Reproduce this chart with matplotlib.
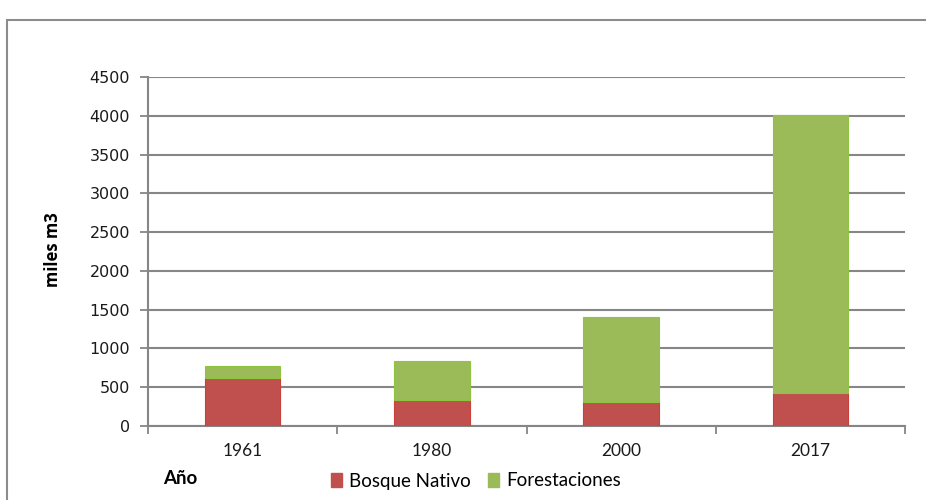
import matplotlib
matplotlib.use("Agg")
import matplotlib.pyplot as plt
from matplotlib.patches import Rectangle, Patch
import numpy as np

# datos (miles m3)
anios = ["1961", "1980", "2000", "2017"]
bosque_nativo = [615, 333, 310, 423]
total = [775, 837, 1405, 4015]
forestaciones = [t - b for t, b in zip(total, bosque_nativo)]
yticks = [0, 500, 1000, 1500, 2000, 2500, 3000, 3500, 4000, 4500]

rojo = "#C0504D"
verde = "#9BBB59"
gris = "#868686"

fig = plt.figure(figsize=(9.26, 5), dpi=100)

# marco del grafico
fig.patches.append(Rectangle((7 / 926, -0.02), 1.0, 0.98, transform=fig.transFigure,
                             fill=False, edgecolor="#8c8c8c", linewidth=1.5))

ax = fig.add_axes([148 / 926, 74 / 500, 757 / 926, 349 / 500])
x = np.arange(len(anios))
ax.bar(x, bosque_nativo, width=0.4, color=rojo, edgecolor="#c9403c", linewidth=0.8,
       zorder=3)
ax.bar(x, forestaciones, width=0.4, bottom=bosque_nativo, color=verde,
       edgecolor="#8fc43f", linewidth=0.8, zorder=3)

ax.set_xlim(-0.5, 3.5)
ax.set_ylim(0, 4500)
ax.set_yticks(yticks)
ax.set_yticklabels([str(v) for v in yticks], fontsize=11.5, family="DejaVu Sans",
                   color="#1a1a1a")
ax.grid(axis="y", color=gris, linewidth=1.5, zorder=0)

ax.set_xticks(np.arange(-0.5, 4.0, 1.0))
ax.set_xticklabels([])
ax.set_xticks(x, minor=True)
ax.set_xticklabels(anios, minor=True, fontsize=12.5, family="Lato", color="#1a1a1a")
ax.tick_params(axis="x", which="minor", length=0, pad=12)
ax.tick_params(axis="x", which="major", length=6, color=gris, width=1.3)
ax.tick_params(axis="y", length=6, color=gris, width=1.3, pad=7)

for s in ["top", "right"]:
    ax.spines[s].set_visible(False)
for s in ["left", "bottom"]:
    ax.spines[s].set_color(gris)
    ax.spines[s].set_linewidth(1.5)

fig.text(53 / 926, 1 - 250 / 500, "miles m3", rotation=90, ha="center", va="center",
         fontsize=12, fontweight="bold", family="Open Sans")
fig.text(163 / 926, 1 - 479 / 500, "Año", ha="left", va="center",
         fontsize=13.5, fontweight="bold", family="Lato")

handles = [Patch(facecolor=rojo, edgecolor=rojo), Patch(facecolor=verde, edgecolor=verde)]
fig.legend(handles, ["Bosque Nativo", "Forestaciones"], loc="center",
           bbox_to_anchor=(476 / 926, 1 - 481 / 500), ncol=2, frameon=False,
           prop={"family": "Lato", "size": 13.5}, handlelength=0.6, handleheight=0.8,
           handletextpad=0.4, columnspacing=0.9)

fig.savefig("out.png", dpi=100)
